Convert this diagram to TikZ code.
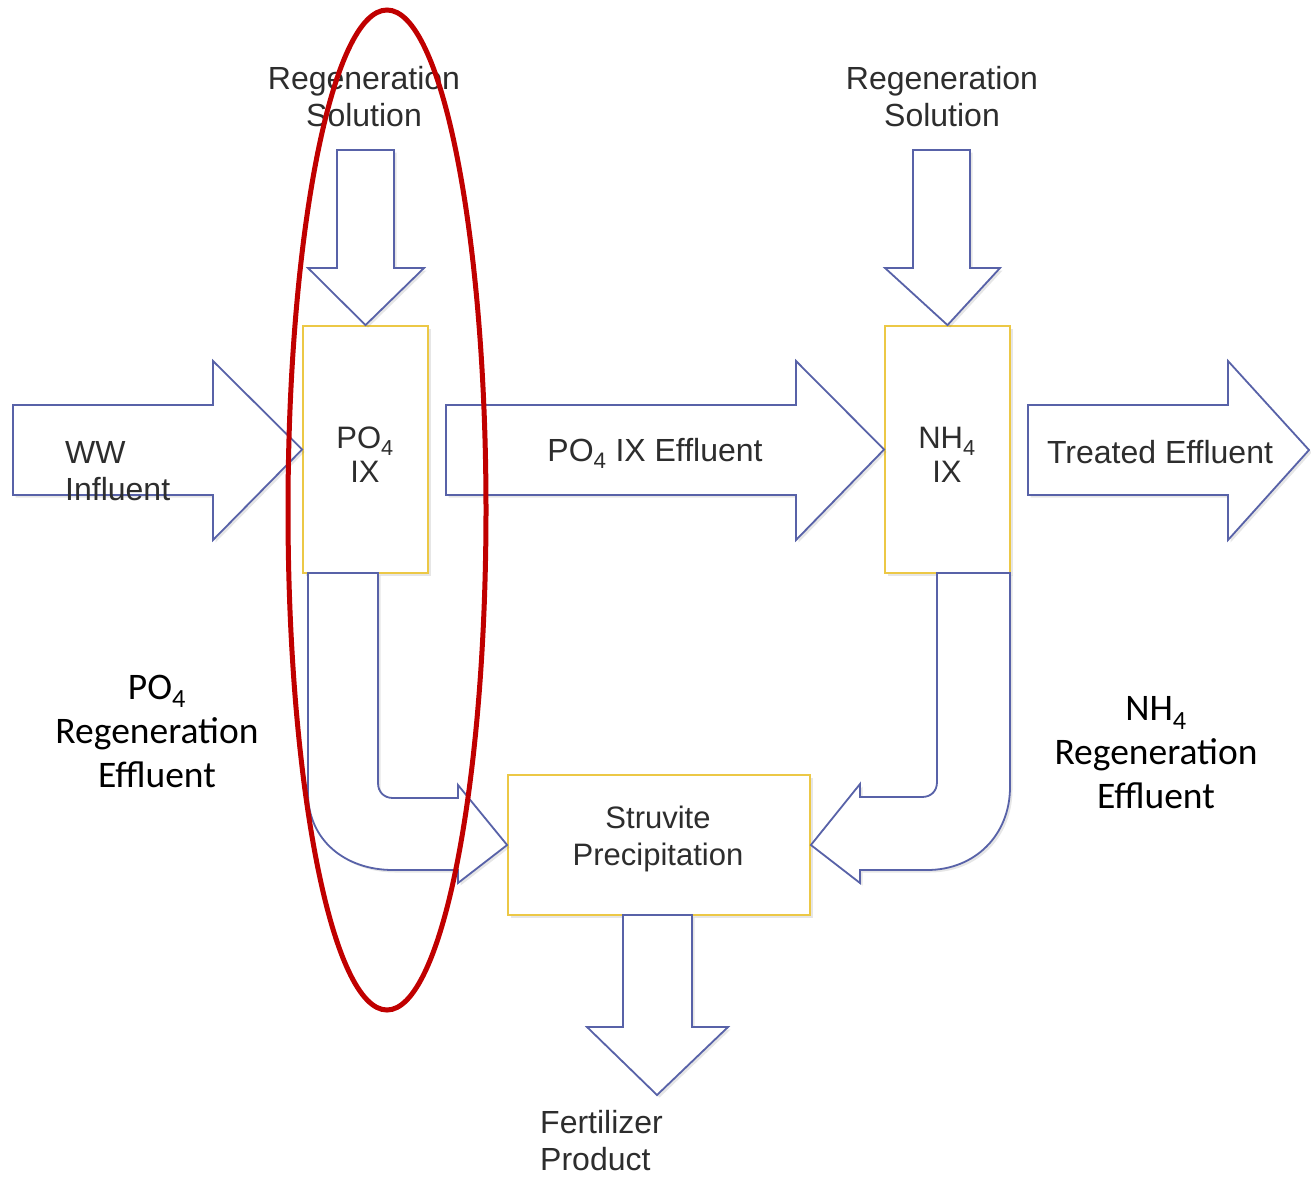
\documentclass[tikz,border=0pt]{standalone}
\usepackage{fontspec}
\setmainfont{Liberation Sans}
\newfontfamily\sidefont{Carlito}
\usetikzlibrary{shadows}
\definecolor{flow}{RGB}{88,98,168}
\definecolor{unit}{RGB}{236,200,70}
\definecolor{ink}{RGB}{45,45,45}
\definecolor{ring}{RGB}{192,0,0}

\begin{document}
\begin{tikzpicture}[x=1pt,y=-1pt,
  softshadow/.style={drop shadow={opacity=0.2,shadow xshift=2.5pt,shadow yshift=-2.5pt}},
  flowarrow/.style={draw=flow,line width=1.8pt,fill=white,line join=miter,softshadow},
  unitbox/.style={draw=unit,line width=1.8pt,fill=white,inner sep=0pt,softshadow},
  lbl/.style={text=ink,font=\fontsize{32}{37}\selectfont,align=center,inner sep=0pt},
  side/.style={text=black,font=\sidefont\fontsize{37.5}{44}\selectfont,align=center,inner sep=0pt}]

\useasboundingbox (0,0) rectangle (1311,1176);

% process units
\node[unitbox,minimum width=125pt,minimum height=247pt] (po4) at (365.5,449.5) {};
\node[unitbox,minimum width=125pt,minimum height=247pt] (nh4) at (947.5,449.5) {};
\node[unitbox,minimum width=302pt,minimum height=140pt] (struv) at (659,845) {};
\node[lbl,font=\fontsize{31}{34}\selectfont] (po4txt) at (365,455) {PO\textsubscript{4}\\IX};
\node[lbl,font=\fontsize{31}{34}\selectfont] (nh4txt) at (947,455) {NH\textsubscript{4}\\IX};
\node[lbl,font=\fontsize{31}{37}\selectfont] (struvtxt) at (658,839) {Struvite\\Precipitation};

% straight block arrows
\draw[flowarrow] (13,405) -- (213,405) -- (213,361) -- (po4.west) -- (213,540) -- (213,495) -- (13,495) -- cycle;
\draw[flowarrow] (446,405) -- (796,405) -- (796,361) -- (nh4.west) -- (796,540) -- (796,495) -- (446,495) -- cycle;
\draw[flowarrow] (1028,405) -- (1228,405) -- (1228,361) -- (1309,450) -- (1228,540) -- (1228,495) -- (1028,495) -- cycle;

% regeneration feeds
\draw[flowarrow] (337,150) -- (394,150) -- (394,268) -- (424,268) -- (po4.north) -- (308,268) -- (337,268) -- cycle;
\draw[flowarrow] (913,150) -- (970,150) -- (970,268) -- (1000,268) -- (nh4.north) -- (885,268) -- (913,268) -- cycle;

% product outlet
\draw[flowarrow] (623,915) -- (692,915) -- (692,1027) -- (728,1027) -- (657,1095) -- (587,1027) -- (623,1027) -- cycle;

% regeneration effluents to struvite precipitation
\draw[flowarrow] (308,573) -- (308,793) .. controls (308,840) and (345,870) .. (393,870)
  -- (458,870) -- (458,883) -- (struv.west) -- (458,785) -- (458,798) -- (393,798)
  .. controls (384,798) and (378,792) .. (378,783) -- (378,573) -- cycle;
\draw[flowarrow] (937,573) -- (937,782) .. controls (937,791) and (931,797) .. (922,797)
  -- (860,797) -- (860,784) -- (struv.east) -- (860,883) -- (860,870) -- (927,870)
  .. controls (975,870) and (1010,835) .. (1010,787) -- (1010,573) -- cycle;

% labels
\node[lbl] (regA) at (364,97) {Regeneration\\Solution};
\node[lbl] (regB) at (942,97) {Regeneration\\Solution};
\node[lbl,align=left,anchor=west] (ww) at (65,471) {WW\\Influent};
\node[lbl] (po4eff) at (655,453) {PO\textsubscript{4} IX Effluent};
\node[lbl] (treated) at (1160,452) {Treated Effluent};
\node[lbl,align=left,anchor=west] (fert) at (540,1141) {Fertilizer\\Product};
\node[side] (po4regen) at (157,731) {PO\textsubscript{4}\\Regeneration\\Effluent};
\node[side] (nh4regen) at (1156,753) {NH\textsubscript{4}\\Regeneration\\Effluent};

% highlight ring
\draw[ring,line width=5pt] (387,510) ellipse [x radius=99,y radius=500];
\end{tikzpicture}
\end{document}
